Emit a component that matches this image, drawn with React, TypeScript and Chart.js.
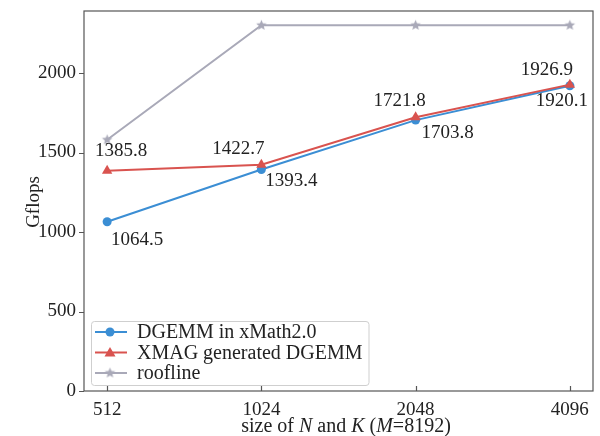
import React, { useEffect, useRef } from "react";
import { Chart, registerables } from "chart.js";
Chart.register(...registerables);

const sizes = ["512", "1024", "2048", "4096"];
const dgemmXMath = [1064.5, 1393.4, 1703.8, 1920.1];
const xmagDgemm = [1385.8, 1422.7, 1721.8, 1926.9];
const roofline = [1580, 2300, 2300, 2300];
const yTicks = [0, 500, 1000, 1500, 2000];
const seriesNames = ["DGEMM in xMath2.0", "XMAG generated DGEMM", "roofline"];

// label offsets (style only, pixels relative to point)
const blueLabelOffsets = [[30, 18], [30, 12], [32, 13], [-8, 15]];
const redLabelOffsets = [[14, -20], [-23, -16], [-16, -16], [-23, -15]];

const BLUE = "#3b8ed4";
const RED = "#d9534f";
const GREY = "#a9a9b8";
const FONT = "'Liberation Serif', 'Times New Roman', serif";
const TEXT = "#222";

function makeStar(color: string, r: number) {
  const c = document.createElement("canvas");
  const s = Math.ceil(r * 2 + 2);
  c.width = s;
  c.height = s;
  const ctx = c.getContext("2d")!;
  ctx.fillStyle = color;
  ctx.beginPath();
  for (let i = 0; i < 10; i++) {
    const rad = i % 2 === 0 ? r : r * 0.45;
    const a = -Math.PI / 2 + (i * Math.PI) / 5;
    const x = s / 2 + rad * Math.cos(a);
    const y = s / 2 + rad * Math.sin(a);
    if (i === 0) ctx.moveTo(x, y);
    else ctx.lineTo(x, y);
  }
  ctx.closePath();
  ctx.fill();
  return c;
}

function drawMarker(ctx: CanvasRenderingContext2D, kind: string, x: number, y: number, color: string, star?: HTMLCanvasElement) {
  ctx.save();
  ctx.fillStyle = color;
  if (kind === "circle") {
    ctx.beginPath();
    ctx.arc(x, y, 4.5, 0, Math.PI * 2);
    ctx.fill();
  } else if (kind === "triangle") {
    ctx.beginPath();
    ctx.moveTo(x, y - 5.5);
    ctx.lineTo(x + 5.5, y + 4);
    ctx.lineTo(x - 5.5, y + 4);
    ctx.closePath();
    ctx.fill();
  } else if (star) {
    ctx.drawImage(star, x - star.width / 2, y - star.height / 2);
  }
  ctx.restore();
}

function zeroPad(s: any) {
  s.paddingTop = 0;
  s.paddingBottom = 0;
  s.paddingLeft = 0;
  s.paddingRight = 0;
}

export default function App() {
  const ref = useRef<HTMLCanvasElement>(null);
  useEffect(() => {
    const star = makeStar(GREY, 5.5);
    const overlay = {
      id: "overlay",
      afterDraw(chart: any) {
        const ctx: CanvasRenderingContext2D = chart.ctx;
        const xs = chart.scales.x;
        const ys = chart.scales.y;
        const a = chart.chartArea;
        ctx.save();
        // frame
        ctx.strokeStyle = "#555";
        ctx.lineWidth = 1.2;
        ctx.strokeRect(a.left, a.top, a.right - a.left, a.bottom - a.top);
        // y ticks (outward)
        ctx.beginPath();
        yTicks.forEach((v) => {
          const py = Math.round(ys.getPixelForValue(v)) + 0.5;
          ctx.moveTo(a.left - 5, py);
          ctx.lineTo(a.left, py);
        });
        // x ticks (inward)
        sizes.forEach((_, i) => {
          const px = Math.round(xs.getPixelForValue(i)) + 0.5;
          ctx.moveTo(px, a.bottom);
          ctx.lineTo(px, a.bottom - 5);
        });
        ctx.stroke();

        // annotations
        ctx.fillStyle = TEXT;
        ctx.font = `19px ${FONT}`;
        ctx.textAlign = "center";
        ctx.textBaseline = "middle";
        dgemmXMath.forEach((v, i) => {
          const px = xs.getPixelForValue(i);
          const py = ys.getPixelForValue(v);
          ctx.fillText(v.toFixed(1), px + blueLabelOffsets[i][0], py + blueLabelOffsets[i][1]);
        });
        xmagDgemm.forEach((v, i) => {
          const px = xs.getPixelForValue(i);
          const py = ys.getPixelForValue(v);
          ctx.fillText(v.toFixed(1), px + redLabelOffsets[i][0], py + redLabelOffsets[i][1]);
        });

        // legend
        ctx.font = `20px ${FONT}`;
        const maxW = Math.max(...seriesNames.map((n) => ctx.measureText(n).width));
        const lx = 91, ly = 321, lw = maxW + 137 - 91 + 6, lh = 64;
        ctx.beginPath();
        (ctx as any).roundRect(lx + 0.5, ly + 0.5, lw, lh, 3);
        ctx.fillStyle = "rgba(255,255,255,0.85)";
        ctx.fill();
        ctx.strokeStyle = "#cfcfcf";
        ctx.lineWidth = 1;
        ctx.stroke();
        const rows = [
          { c: BLUE, k: "circle" },
          { c: RED, k: "triangle" },
          { c: GREY, k: "star" },
        ];
        ctx.textAlign = "left";
        ctx.textBaseline = "middle";
        rows.forEach((r, i) => {
          const y = 332 + i * 20.5;
          ctx.strokeStyle = r.c;
          ctx.lineWidth = 2;
          ctx.beginPath();
          ctx.moveTo(95, y);
          ctx.lineTo(127, y);
          ctx.stroke();
          drawMarker(ctx, r.k, 110, y, r.c, star);
          ctx.fillStyle = TEXT;
          ctx.fillText(seriesNames[i], 137, y + 1);
        });

        // y title
        ctx.save();
        ctx.translate(34, 202);
        ctx.rotate(-Math.PI / 2);
        ctx.font = `19px ${FONT}`;
        ctx.textAlign = "center";
        ctx.textBaseline = "middle";
        ctx.fillStyle = TEXT;
        ctx.fillText("Gflops", 0, 0);
        ctx.restore();

        // x title with italics
        const parts: [string, boolean][] = [
          ["size of ", false],
          ["N", true],
          [" and ", false],
          ["K", true],
          [" (", false],
          ["M", true],
          ["=8192)", false],
        ];
        ctx.textAlign = "left";
        ctx.textBaseline = "middle";
        ctx.fillStyle = TEXT;
        let total = 0;
        parts.forEach(([t, it]) => {
          ctx.font = `${it ? "italic " : ""}20px ${FONT}`;
          total += ctx.measureText(t).width;
        });
        let cx = 346 - total / 2;
        parts.forEach(([t, it]) => {
          ctx.font = `${it ? "italic " : ""}20px ${FONT}`;
          ctx.fillText(t, cx, 427);
          cx += ctx.measureText(t).width;
        });
        ctx.restore();
      },
    };

    const chart = new Chart(ref.current!, {
      type: "line",
      data: {
        datasets: [
          {
            label: seriesNames[2],
            data: roofline.map((v, i) => ({ x: i, y: v })),
            borderColor: GREY,
            backgroundColor: GREY,
            borderWidth: 2,
            pointStyle: star as any,
            pointRadius: 5,
            order: 3,
          },
          {
            label: seriesNames[0],
            data: dgemmXMath.map((v, i) => ({ x: i, y: v })),
            borderColor: BLUE,
            backgroundColor: BLUE,
            borderWidth: 2,
            pointStyle: "circle",
            pointRadius: 4.5,
            pointBorderWidth: 0,
            order: 2,
          },
          {
            label: seriesNames[1],
            data: xmagDgemm.map((v, i) => ({ x: i, y: v })),
            borderColor: RED,
            backgroundColor: RED,
            borderWidth: 2,
            pointStyle: "triangle",
            pointRadius: 6,
            pointBorderWidth: 0,
            order: 1,
          },
        ],
      },
      options: {
        responsive: false,
        animation: false,
        layout: { padding: { top: 11, right: 0, left: 0, bottom: 0 } },
        plugins: { legend: { display: false }, tooltip: { enabled: false } },
        scales: {
          x: {
            type: "linear",
            min: -0.15,
            max: 3.15,
            grid: { display: false },
            border: { display: false },
            afterBuildTicks: (s: any) => {
              s.ticks = sizes.map((_, i) => ({ value: i }));
            },
            afterFit: (s: any) => {
              s.height = 45;
              zeroPad(s);
            },
            ticks: {
              padding: 0,
              color: TEXT,
              font: { family: FONT, size: 19 },
              callback: (v: any) => sizes[v] ?? "",
              maxRotation: 0,
            },
          },
          y: {
            type: "linear",
            min: 0,
            max: 2390,
            grid: { display: false },
            border: { display: false },
            afterBuildTicks: (s: any) => {
              s.ticks = yTicks.map((v) => ({ value: v }));
            },
            afterFit: (s: any) => {
              s.width = 84;
              zeroPad(s);
            },
            ticks: {
              padding: 0,
              color: TEXT,
              font: { family: FONT, size: 19 },
              callback: (v: any) => String(v),
            },
          },
        },
      },
      plugins: [overlay],
    } as any);
    return () => chart.destroy();
  }, []);
  return (
    <div style={{ position: "fixed", left: 0, top: 0, width: 600, height: 436, background: "#fff" }}>
      <canvas ref={ref} width={600} height={436} />
    </div>
  );
}
